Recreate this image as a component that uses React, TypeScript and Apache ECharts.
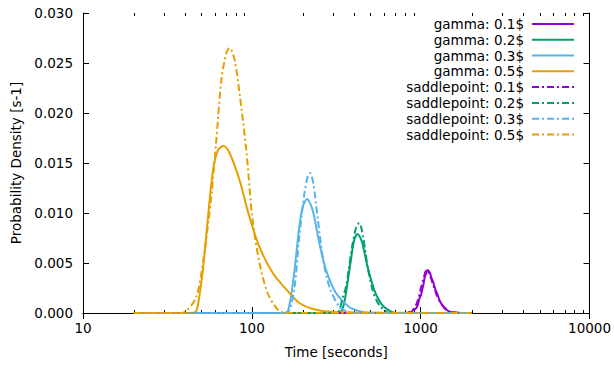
import React, { useEffect, useRef } from "react";
import * as echarts from "echarts";

const FONT = "DejaVu Sans";
const FS = 13.5;

const seriesNames = [
  "gamma: 0.1$",
  "gamma: 0.2$",
  "gamma: 0.3$",
  "gamma: 0.5$",
  "saddlepoint: 0.1$",
  "saddlepoint: 0.2$",
  "saddlepoint: 0.3$",
  "saddlepoint: 0.5$",
];
const colors = ["#9400d3", "#009e73", "#56b4e9", "#e69f00"];

// gamma 0.1
const g01T = [20, 850, 880, 905, 930, 957, 985, 1005, 1023, 1040, 1057, 1075, 1096, 1115, 1135, 1160, 1190, 1225, 1256, 1290, 1330, 1374, 1430, 1500, 1600, 1726, 2000];
const g01V = [0, 0, 0.0001, 0.0003, 0.0004, 0.0007, 0.0015, 0.0018, 0.0024, 0.0029, 0.0036, 0.0039, 0.0043, 0.0042, 0.0040, 0.0035, 0.0030, 0.0023, 0.0019, 0.0013, 0.0009, 0.0006, 0.0003, 0.0001, 0.00005, 0, 0];
// gamma 0.2
const g02T = [20, 330, 337, 350, 361, 373, 386, 404, 423, 437, 453, 485, 531, 570, 608, 660, 713, 2000];
const g02V = [0, 0, 0.0001, 0.0008, 0.002, 0.0036, 0.0053, 0.0073, 0.0079, 0.0076, 0.0069, 0.0046, 0.0023, 0.0012, 0.0006, 0.0002, 0, 0];
// gamma 0.3
const g03T = [20, 158, 163, 171, 179, 191, 200, 212, 229, 251, 275, 315, 378, 430, 495, 2000];
const g03V = [0, 0, 0.0001, 0.0018, 0.0043, 0.0086, 0.0106, 0.0114, 0.0103, 0.007, 0.0043, 0.002, 0.0006, 0.0002, 0, 0];
// gamma 0.5
const g05T = [20, 44, 46.9, 49, 51.3, 55, 58.9, 63, 68.1, 73.8, 84.5, 96.8, 111, 133, 167, 191, 230, 300, 2000];
const g05V = [0, 0, 0.0002, 0.0018, 0.0043, 0.0096, 0.0143, 0.0163, 0.0167, 0.016, 0.0133, 0.0096, 0.0066, 0.004, 0.002, 0.001, 0.0004, 0.0001, 0];
// saddlepoint 0.1
const s01T = [20, 830, 860, 890, 915, 945, 975, 1000, 1025, 1045, 1065, 1085, 1105, 1125, 1150, 1180, 1215, 1250, 1290, 1335, 1380, 1440, 1530, 1650, 2000];
const s01V = [0, 0, 0.0001, 0.0002, 0.0005, 0.0009, 0.0016, 0.0024, 0.0031, 0.0036, 0.0041, 0.0043, 0.0042, 0.0039, 0.0035, 0.0029, 0.0023, 0.0017, 0.0012, 0.0008, 0.0005, 0.0002, 0.0001, 0, 0];
// saddlepoint 0.2
const s02T = [20, 320, 330, 345, 361, 376, 392, 414, 433, 445, 457, 470, 485, 519, 550, 581, 620, 650, 2000];
const s02V = [0, 0, 0.0003, 0.0015, 0.0026, 0.0045, 0.0066, 0.0085, 0.009, 0.0085, 0.0076, 0.0062, 0.0046, 0.0023, 0.0012, 0.0006, 0.0002, 0, 0];
// saddlepoint 0.3
const s03T = [20, 155, 167, 179, 191, 205, 214, 221, 231, 245, 263, 288, 330, 360, 395, 2000];
const s03V = [0, 0, 0.0003, 0.0026, 0.0076, 0.012, 0.0136, 0.014, 0.013, 0.0096, 0.0056, 0.0026, 0.0006, 0.0002, 0, 0];
// saddlepoint 0.5
const s05T = [20, 38, 41, 46.9, 51.3, 57.5, 61.6, 66, 70.6, 73.8, 79.1, 84.5, 92.7, 101, 111, 124, 143, 160, 2000];
const s05V = [0, 0, 0.0002, 0.0016, 0.005, 0.0116, 0.0173, 0.0233, 0.026, 0.0265, 0.0253, 0.022, 0.0163, 0.0093, 0.005, 0.002, 0.0003, 0, 0];

const allT = [g01T, g02T, g03T, g05T, s01T, s02T, s03T, s05T];
const allV = [g01V, g02V, g03V, g05V, s01V, s02V, s03V, s05V];

const yTickStep = 0.005;
const minorXTicks = [20, 30, 40, 50, 60, 70, 80, 90, 200, 300, 400, 500, 600, 700, 800, 900, 2000, 3000, 4000, 5000, 6000, 7000, 8000, 9000];
const majorXTicks = [10, 100, 1000, 10000];

const DASHDOT = [7, 3, 2, 3];

export default function App() {
  const ref = useRef<HTMLDivElement>(null);
  useEffect(() => {
    if (!ref.current) return;
    const chart = echarts.init(ref.current, undefined, { renderer: "svg" });
    const gridRect = { left: 83, right: 23, top: 13, bottom: 52 };
    const axisLine = { show: true, lineStyle: { color: "#000", width: 1 } };
    const series = seriesNames.map((name, i) => ({
      name,
      type: "line",
      xAxisIndex: 0,
      yAxisIndex: 0,
      symbol: "none",
      smooth: i % 4 === 0 ? 0.15 : 0.3,
      data: allT[i].map((t, k) => [t, allV[i][k]]),
      lineStyle: { color: colors[i % 4], width: 2, type: i >= 4 ? DASHDOT : "solid" },
      itemStyle: { color: colors[i % 4] },
      z: 3,
    }));
    chart.setOption({
      animation: false,
      backgroundColor: "#fff",
      textStyle: { fontFamily: FONT },
      grid: [
        { ...gridRect, containLabel: false },
        { ...gridRect, containLabel: false },
      ],
      legend: {
        orient: "vertical",
        right: 39,
        top: 16,
        align: "right",
        itemWidth: 42,
        itemHeight: 10,
        itemGap: 0,
        padding: 0,
        data: seriesNames,
        itemStyle: { opacity: 0, borderWidth: 0 },
        textStyle: { fontSize: FS, fontFamily: FONT, color: "#000", lineHeight: 15.8, padding: [0, 3, 0, 0] },
      },
      xAxis: [
        {
          type: "log",
          gridIndex: 0,
          position: "bottom",
          min: 10,
          max: 10000,
          logBase: 10,
          name: "Time [seconds]",
          nameLocation: "middle",
          nameGap: 32,
          nameTextStyle: { fontSize: FS, fontFamily: FONT, color: "#000" },
          axisLine,
          axisTick: { show: true, inside: true, length: 6, customValues: majorXTicks, lineStyle: { color: "#000" } },
          axisLabel: { show: true, margin: 8, fontSize: FS, fontFamily: FONT, color: "#000", customValues: majorXTicks, formatter: (v: number) => String(v) },
          splitLine: { show: false },
          minorTick: { show: false },
        },
        {
          type: "log",
          gridIndex: 0,
          position: "top",
          min: 10,
          max: 10000,
          logBase: 10,
          axisLine,
          axisTick: { show: true, inside: true, length: 6, customValues: majorXTicks, lineStyle: { color: "#000" } },
          axisLabel: { show: false },
          splitLine: { show: false },
        },
        {
          type: "log",
          gridIndex: 1,
          position: "bottom",
          min: 10,
          max: 10000,
          logBase: 10,
          axisLine: { show: false },
          axisTick: { show: true, inside: true, length: 3, customValues: minorXTicks, lineStyle: { color: "#000" } },
          axisLabel: { show: false },
          splitLine: { show: false },
        },
        {
          type: "log",
          gridIndex: 1,
          position: "top",
          min: 10,
          max: 10000,
          logBase: 10,
          axisLine: { show: false },
          axisTick: { show: true, inside: true, length: 3, customValues: minorXTicks, lineStyle: { color: "#000" } },
          axisLabel: { show: false },
          splitLine: { show: false },
        },
      ],
      yAxis: [
        {
          type: "value",
          gridIndex: 0,
          position: "left",
          min: 0,
          max: 0.03,
          interval: yTickStep,
          name: "Probability Density [s-1]",
          nameLocation: "middle",
          nameGap: 60,
          nameTextStyle: { fontSize: FS, fontFamily: FONT, color: "#000" },
          axisLine,
          axisTick: { show: true, inside: true, length: 6, lineStyle: { color: "#000" } },
          axisLabel: { show: true, margin: 10, fontSize: FS, fontFamily: FONT, color: "#000", formatter: (v: number) => v.toFixed(3) },
          splitLine: { show: false },
        },
        {
          type: "value",
          gridIndex: 0,
          position: "right",
          min: 0,
          max: 0.03,
          interval: yTickStep,
          axisLine,
          axisTick: { show: true, inside: true, length: 6, lineStyle: { color: "#000" } },
          axisLabel: { show: false },
          splitLine: { show: false },
        },
        {
          type: "value",
          gridIndex: 1,
          min: 0,
          max: 0.03,
          show: false,
        },
      ],
      series,
    });
    return () => chart.dispose();
  }, []);
  return (
    <div
      ref={ref}
      style={{ position: "fixed", left: 0, top: 0, width: 614, height: 365, background: "#fff" }}
    />
  );
}
